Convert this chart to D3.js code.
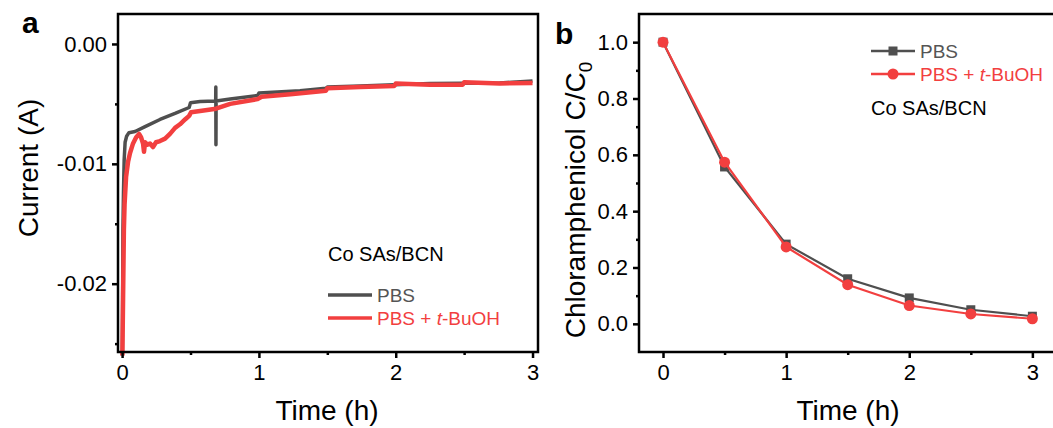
<!DOCTYPE html>
<html><head><meta charset="utf-8">
<script src="https://cdn.jsdelivr.net/npm/d3@7"></script>
<style>
body{margin:0;background:#fff;}
svg{display:block;font-family:"Liberation Sans",Arial,Helvetica,sans-serif;}
</style></head>
<body><svg id="c" width="1053" height="428"></svg>
<script>
// ---------- Data: panel a (current vs time) ----------
const pbsTime = [0.002,0.006,0.010,0.015,0.022,0.033,0.050,0.095,0.168,0.277,0.387,0.490,0.500,0.570,0.684,0.685,0.686,0.687,0.790,0.990,1.000,1.300,1.490,1.500,1.740,1.990,2.250,2.490,2.760,3.000];
const pbsCurrent = [-0.0260,-0.0155,-0.0124,-0.0097,-0.0082,-0.0077,-0.0074,-0.0073,-0.0069,-0.0063,-0.0058,-0.0053,-0.0049,-0.0048,-0.00475,-0.0036,-0.0084,-0.00475,-0.0046,-0.0043,-0.0041,-0.0039,-0.0037,-0.0036,-0.0035,-0.0034,-0.0033,-0.00328,-0.00325,-0.0031];
const tbuTime = [0.002,0.007,0.013,0.018,0.029,0.044,0.058,0.080,0.102,0.124,0.139,0.153,0.160,0.168,0.185,0.204,0.226,0.248,0.277,0.314,0.350,0.387,0.423,0.460,0.490,0.504,0.570,0.686,0.790,0.990,1.020,1.230,1.490,1.500,1.740,1.990,2.000,2.250,2.490,2.500,2.760,3.000];
const tbuCurrent = [-0.0260,-0.0213,-0.0155,-0.0134,-0.0111,-0.0098,-0.0091,-0.0083,-0.0078,-0.0075,-0.0078,-0.0083,-0.0090,-0.0082,-0.0084,-0.0083,-0.0086,-0.0082,-0.0081,-0.0079,-0.0075,-0.0070,-0.0067,-0.0063,-0.0060,-0.0057,-0.0056,-0.0054,-0.0050,-0.0046,-0.0044,-0.0042,-0.0039,-0.0037,-0.0036,-0.0035,-0.0033,-0.0034,-0.0034,-0.0032,-0.0033,-0.00325];
const aYTicks = [-0.02,-0.01,0.00];
const aYMinor = [-0.025,-0.015,-0.005];
const xTicks = [0,1,2,3];
const xMinor = [0.5,1.5,2.5];

// ---------- Data: panel b (C/C0 vs time) ----------
const bTime = [0,0.5,1,1.5,2,2.5,3];
const bPBS = [1.0,0.557,0.283,0.160,0.092,0.050,0.027];
const bTBu = [1.0,0.574,0.273,0.139,0.065,0.035,0.018];
const bYTicks = [0.0,0.2,0.4,0.6,0.8,1.0];
const bYMinor = [0.1,0.3,0.5,0.7,0.9];

const GRAY = "#4f4f4f", RED = "#f23f3f";
const svg = d3.select("#c");

// ---------- Panel a ----------
const xa = d3.scaleLinear().domain([-0.03,3.04]).range([118,538]);
const ya = d3.scaleLinear().domain([-0.0257,0.0025]).range([352,14]);
const pa = svg.append("g");
const la = d3.line().x(d=>xa(d[0])).y(d=>ya(d[1]));
pa.append("path").datum(pbsTime.map((t,i)=>[t,pbsCurrent[i]]))
  .attr("d",la).attr("fill","none").attr("stroke",GRAY).attr("stroke-width",3.5).attr("stroke-linejoin","round");
pa.append("path").datum(tbuTime.map((t,i)=>[t,tbuCurrent[i]]))
  .attr("d",la).attr("fill","none").attr("stroke",RED).attr("stroke-width",4.5).attr("stroke-linejoin","round");

function frame(g,x,y){
  const [x0,x1]=x.range(), [y0,y1]=y.range();
  g.append("rect").attr("x",x0).attr("y",y1).attr("width",x1-x0).attr("height",y0-y1)
    .attr("fill","none").attr("stroke","#000").attr("stroke-width",2.5);
}
function axes(g,x,y,yt,ym,fmt){
  const ax = g.append("g").attr("transform",`translate(0,${y.range()[0]})`)
    .call(d3.axisBottom(x).tickValues(xTicks).tickSize(6).tickPadding(6).tickFormat(d3.format("d")));
  const axm = g.append("g").attr("transform",`translate(0,${y.range()[0]})`)
    .call(d3.axisBottom(x).tickValues(xMinor).tickSize(3).tickFormat(""));
  const ay = g.append("g").attr("transform",`translate(${x.range()[0]},0)`)
    .call(d3.axisLeft(y).tickValues(yt).tickSize(6).tickPadding(5).tickFormat(fmt));
  const aym = g.append("g").attr("transform",`translate(${x.range()[0]},0)`)
    .call(d3.axisLeft(y).tickValues(ym).tickSize(3).tickFormat(""));
  [ax,axm,ay,aym].forEach(a=>{
    a.select(".domain").remove();
    a.selectAll("line").attr("stroke","#000").attr("stroke-width",2.5);
    a.selectAll("text").attr("font-size",22).attr("fill","#000").attr("font-family","Liberation Sans, Arial, sans-serif");
  });
}
frame(pa,xa,ya);
axes(pa,xa,ya,aYTicks,aYMinor,d=>d3.format(".2f")(d).replace("−","-"));

pa.append("text").attr("x",327).attr("y",420).attr("text-anchor","middle").attr("font-size",28).text("Time (h)");
pa.append("text").attr("transform","translate(38,168) rotate(-90)").attr("text-anchor","middle").attr("font-size",28).text("Current (A)");
pa.append("text").attr("x",22).attr("y",33).attr("font-size",30).attr("font-weight","bold").text("a");
pa.append("text").attr("x",328).attr("y",261).attr("font-size",20).text("Co SAs/BCN");
pa.append("line").attr("x1",328).attr("x2",372).attr("y1",295).attr("y2",295).attr("stroke",GRAY).attr("stroke-width",3.5);
pa.append("line").attr("x1",328).attr("x2",372).attr("y1",318).attr("y2",318).attr("stroke",RED).attr("stroke-width",3.5);
pa.append("text").attr("x",377).attr("y",302).attr("font-size",19).attr("fill","#555").text("PBS");
const ta = pa.append("text").attr("x",377).attr("y",325).attr("font-size",19).attr("fill",RED);
ta.append("tspan").text("PBS + ");
ta.append("tspan").attr("font-style","italic").text("t");
ta.append("tspan").text("-BuOH");

// ---------- Panel b ----------
const xb = d3.scaleLinear().domain([-0.195,3.2]).range([639,1057]);
const yb = d3.scaleLinear().domain([-0.1,1.1]).range([352,14]);
const pb = svg.append("g");
const lb = d3.line().x(d=>xb(d[0])).y(d=>yb(d[1]));
const dPBS = bTime.map((t,i)=>[t,bPBS[i]]), dTBu = bTime.map((t,i)=>[t,bTBu[i]]);
pb.append("path").datum(dPBS).attr("d",lb).attr("fill","none").attr("stroke",GRAY).attr("stroke-width",2.2);
pb.selectAll(".sq").data(dPBS).enter().append("rect")
  .attr("x",d=>xb(d[0])-4.5).attr("y",d=>yb(d[1])-4.5).attr("width",9).attr("height",9).attr("fill",GRAY);
pb.append("path").datum(dTBu).attr("d",lb).attr("fill","none").attr("stroke",RED).attr("stroke-width",2.2);
pb.selectAll(".ci").data(dTBu).enter().append("circle")
  .attr("cx",d=>xb(d[0])).attr("cy",d=>yb(d[1])).attr("r",5.5).attr("fill",RED);
frame(pb,xb,yb);
axes(pb,xb,yb,bYTicks,bYMinor,d3.format(".1f"));

pb.append("text").attr("x",848).attr("y",420).attr("text-anchor","middle").attr("font-size",28).text("Time (h)");
const yt = pb.append("text").attr("transform","translate(585,200) rotate(-90)").attr("text-anchor","middle").attr("font-size",28);
yt.append("tspan").text("Chloramphenicol C/C");
yt.append("tspan").attr("font-size",19).attr("dy",7).text("0");
pb.append("text").attr("x",555).attr("y",44).attr("font-size",30).attr("font-weight","bold").text("b");

pb.append("line").attr("x1",871).attr("x2",915).attr("y1",51).attr("y2",51).attr("stroke",GRAY).attr("stroke-width",2.5);
pb.append("rect").attr("x",893-4.5).attr("y",51-4.5).attr("width",9).attr("height",9).attr("fill",GRAY);
pb.append("line").attr("x1",871).attr("x2",915).attr("y1",74).attr("y2",74).attr("stroke",RED).attr("stroke-width",2.5);
pb.append("circle").attr("cx",893).attr("cy",74).attr("r",5.5).attr("fill",RED);
pb.append("text").attr("x",920).attr("y",58).attr("font-size",19).attr("fill","#555").text("PBS");
const tb = pb.append("text").attr("x",920).attr("y",81).attr("font-size",19).attr("fill",RED);
tb.append("tspan").text("PBS + ");
tb.append("tspan").attr("font-style","italic").text("t");
tb.append("tspan").text("-BuOH");
pb.append("text").attr("x",871).attr("y",115).attr("font-size",20).text("Co SAs/BCN");
</script></body></html>
